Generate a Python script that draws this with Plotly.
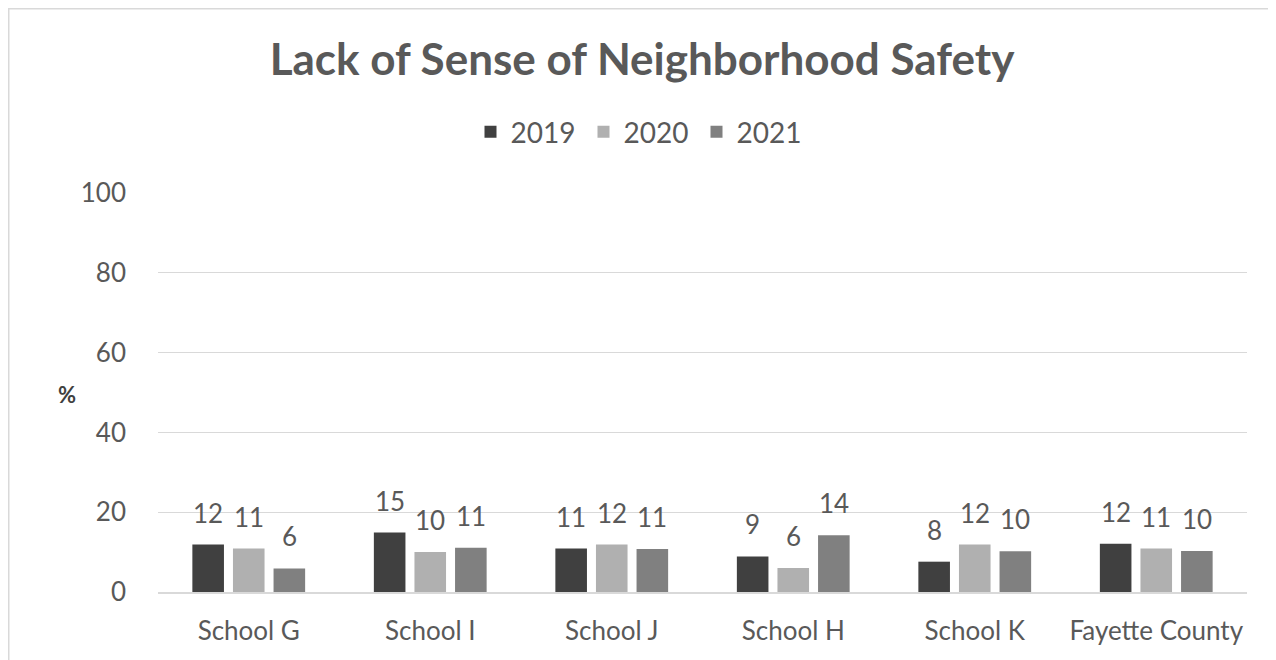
import plotly.graph_objects as go

categories = ["School G", "School I", "School J", "School H", "School K", "Fayette County"]
years = ["2019", "2020", "2021"]
v2019 = [11.9, 14.9, 10.9, 8.9, 7.6, 12.1]
v2020 = [10.9, 10.0, 11.9, 6.0, 11.9, 10.9]
v2021 = [5.9, 11.1, 10.8, 14.2, 10.2, 10.3]
colors = ["#404040", "#b0b0b0", "#808080"]
yticks = [0, 20, 40, 60, 80, 100]

FONT = "Lato, Open Sans, sans-serif"
TXT = "#595959"
W, H = 1268, 652
L, R, T, B = 150, 29, 185, 68
BARGAP, GROUPGAP = 0.329, 0.222

fig = go.Figure()
series = [v2019, v2020, v2021]
for name, vals, col in zip(years, series, colors):
    fig.add_trace(go.Bar(
        x=categories, y=vals, name=name, marker=dict(color=col, line=dict(width=0)),
    ))

pw = W - L - R
ph = H - T - B
slot = pw / len(categories) * (1 - BARGAP) / len(years)

# data labels, placed above each bar from the same values
for i, vals in enumerate(series):
    for c, v in zip(categories, vals):
        fig.add_annotation(x=c, y=v, xref="x", yref="y", text=f"{v:.0f}", showarrow=False,
                           xshift=(i - 1) * slot, yshift=14, yanchor="bottom",
                           font=dict(family=FONT, size=26, color=TXT))

def px_x(p):
    return (p - L) / pw
def px_y(p):
    return (H - B - p) / ph

fig.update_layout(
    width=W, height=H,
    margin=dict(l=L, r=R, t=T, b=B),
    paper_bgcolor="white", plot_bgcolor="white",
    barmode="group", bargap=BARGAP, bargroupgap=GROUPGAP,
    title=dict(text="<b>Lack of Sense of Neighborhood Safety</b>", x=0.5, xanchor="center",
               y=1 - 52 / H, yanchor="middle",
               font=dict(family=FONT, size=44, color=TXT)),
    legend=dict(orientation="h", x=632 / W, xref="container", xanchor="center",
                y=1 - 124 / H, yref="container", yanchor="middle",
                font=dict(family=FONT, size=28, color=TXT),
                itemwidth=30, entrywidth=68, entrywidthmode="pixels", traceorder="normal"),
    xaxis=dict(showgrid=False, showline=True, linecolor="#d9d9d9", linewidth=1.5, ticks="",
               ticklabelstandoff=15,
               tickfont=dict(family=FONT, size=26, color=TXT)),
    yaxis=dict(range=[0, 100], tickvals=yticks, showgrid=True, gridcolor="#d9d9d9", gridwidth=1,
               zeroline=False, showline=False, ticks="", ticklabelstandoff=31,
               tickfont=dict(family=FONT, size=26, color=TXT)),
    showlegend=True,
    font=dict(family=FONT, color=TXT),
)

fig.add_annotation(text="<b>%</b>", x=px_x(48), y=px_y(386), xref="paper", yref="paper",
                   showarrow=False, font=dict(family=FONT, size=22, color="#404040"))

fig.add_shape(type="rect", xref="paper", yref="paper",
              x0=px_x(0.75), x1=px_x(1266), y0=px_y(700), y1=px_y(0.75),
              line=dict(color="#d9d9d9", width=1.5), fillcolor="rgba(0,0,0,0)", layer="below")

fig.write_html("out.html")
